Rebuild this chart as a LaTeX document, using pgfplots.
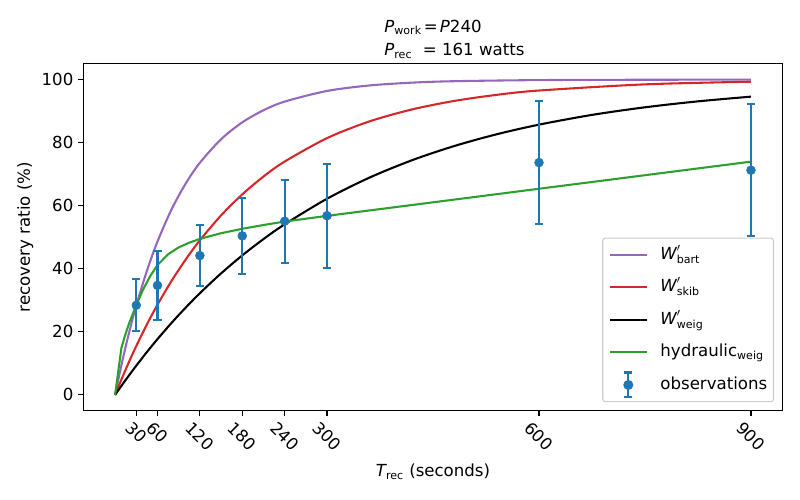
\documentclass[border=0pt]{standalone}
\usepackage{fontspec}
\setmainfont{DejaVu Sans}
\usepackage{amsmath}
\usepackage{graphicx}
\usepackage{pgfplots}
\pgfplotsset{compat=1.18}
\definecolor{tabblue}{HTML}{1F77B4}
\definecolor{tabred}{HTML}{D62728}
\definecolor{tabgreen}{HTML}{2CA02C}
\definecolor{tabpurple}{HTML}{9467BD}
\pgfplotsset{
  lineleg/.style={legend image code/.code={\draw[##1] (0pt,0pt) -- (26.5pt,0pt);}},
  obsleg/.style={legend image code/.code={
    \path (0pt,0pt) (26.5pt,0pt);
    \draw[overlay, tabblue, line width=1.5pt] (13.25pt,-9pt) -- (13.25pt,9pt);
    \draw[overlay, tabblue, line width=1.5pt] (10.25pt,-9pt) -- (16.25pt,-9pt);
    \draw[overlay, tabblue, line width=1.5pt] (10.25pt,9pt) -- (16.25pt,9pt);
    \fill[overlay, tabblue] (13.25pt,0pt) circle (3.2pt);}},
}
\begin{document}
\begin{tikzpicture}[font=\fontsize{12}{14.4}\selectfont]
\begin{axis}[
  at={(0,0)}, anchor=south west,
  scale only axis, width=505.5pt, height=250.6pt,
  xmin=-45, xmax=945, ymin=-5, ymax=105,
  xtick={30,60,120,180,240,300,600,900},
  ytick={0,20,40,60,80,100},
  /pgf/number format/assume math mode=true,
  tick align=outside, tick pos=left,
  major tick length=3.5pt,
  every tick/.style={black, line width=0.8pt},
  axis line style={line width=0.8pt},
  xticklabel={\rotatebox{-45}{\pgfmathprintnumber{\tick}}},
  xticklabel style={anchor=north, inner sep=0pt, yshift=-3.5pt},
  yticklabel style={anchor=east, inner sep=0pt, xshift=-3.5pt},
  xlabel={$\textit{T}_{\text{rec}}$ (seconds)},
  xlabel style={at={(axis description cs:0.5,-0.1911)}, anchor=base, inner sep=0pt},
  ylabel={recovery ratio (\%)},
  ylabel style={at={(axis description cs:-0.0762,0.5)}, anchor=base, inner sep=0pt},
  title={\begin{tabular}[b]{@{}l@{}}\textit{P}$_{\text{work}}$\kern1.5pt=\kern1.5pt\textit{P}240\\[2.5pt]\rlap{\textit{P}$_{\text{rec}}$~~= 161 watts}\end{tabular}},
  title style={at={(axis description cs:0.5,1)}, anchor=base, yshift=0pt, inner sep=0pt},
  legend style={at={(1,0)}, anchor=south east, xshift=-6.3pt, yshift=6.1pt,
    draw=black!20, line width=0.8pt, rounded corners=2pt, fill=white,
    inner xsep=4.5pt, inner ysep=5.6pt, row sep=10.5pt, column sep=9.2pt,
    nodes={inner sep=0pt, text height=9.5pt, text depth=3.5pt},
    font=\fontsize{12}{14.4}\selectfont},
  legend cell align=left,
]
\addplot[tabpurple, line width=1.5pt, smooth, lineleg] coordinates {
(0,0) (10,10.52) (20,19.93) (30,28.35) (45,39.35) (60,48.66) (80,58.89) (100,67.08)
(120,73.64) (150,81.11) (180,86.47) (210,90.30) (240,93.05) (300,96.43) (360,98.17)
(420,99.06) (480,99.52) (600,99.87) (750,99.98) (900,100.0)};
\addlegendentry{$\textit{W}'_{\text{bart}}$}
\addplot[tabred, line width=1.5pt, smooth, lineleg] coordinates {
(0,0) (10,5.46) (20,10.63) (30,15.51) (45,22.34) (60,28.61) (80,36.20) (100,42.98)
(120,49.04) (150,56.95) (180,63.62) (210,69.27) (240,74.03) (300,81.46) (360,86.77)
(420,90.55) (480,93.26) (540,95.19) (600,96.56) (750,98.52) (900,99.36)};
\addlegendentry{$\textit{W}'_{\text{skib}}$}
\addplot[black, line width=1.5pt, smooth, lineleg] coordinates {
(0,0) (10,3.20) (20,6.29) (30,9.28) (45,13.59) (60,17.70) (80,22.87) (100,27.72)
(120,32.27) (150,38.55) (180,44.26) (210,49.43) (240,54.12) (300,62.24) (360,68.93)
(420,74.43) (480,78.95) (540,82.68) (600,85.74) (675,88.83) (750,91.24) (825,93.13) (900,94.62)};
\addlegendentry{$\textit{W}'_{\text{weig}}$}
\addplot[tabgreen, line width=1.5pt, lineleg] coordinates {
(0,0) (9,15.0) (15,19.5) (20,22.8) (30,28.5) (40,33.6) (50,37.8) (60,41.2) (75,44.6)
(90,46.8) (105,48.3) (120,49.5) (150,51.3) (180,52.7) (210,53.9) (240,55.0) (300,56.8)
(600,65.4) (900,74.0)};
\addlegendentry{hydraulic$_{\text{weig}}$}
\addplot[only marks, mark=*, mark size=3.2pt, color=tabblue,
  mark options={draw=tabblue, fill=tabblue, line width=0.4pt}, obsleg,
  error bars/.cd, y dir=both, y explicit, error mark=|,
  error bar style={line width=1.5pt, tabblue},
  error mark options={line width=1.5pt, mark size=3pt, tabblue}
] coordinates {
(30,28.45) +- (0,8.25)
(60,34.75) +- (0,11.05)
(120,44.2) +- (0,9.7)
(180,50.45) +- (0,12.05)
(240,55.1) +- (0,13.2)
(300,56.85) +- (0,16.55)
(600,73.7) +- (0,19.4)
(900,71.3) +- (0,20.9)};
\addlegendentry{observations}
\end{axis}
\pgfresetboundingbox
\path[use as bounding box] (-60.2pt,-64.55pt) rectangle ++(578.16pt,361.35pt);
\end{tikzpicture}
\end{document}
